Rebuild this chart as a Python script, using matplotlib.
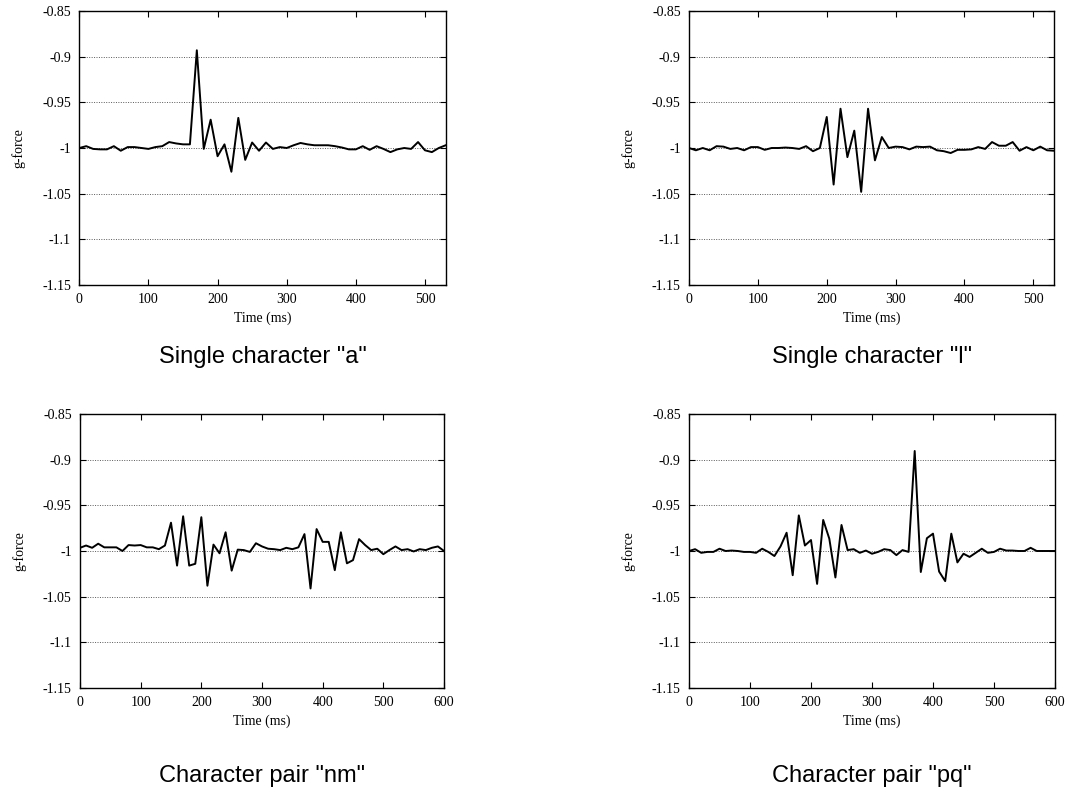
import numpy as np
import matplotlib.pyplot as plt
from matplotlib.ticker import FuncFormatter

plt.rcParams['axes.unicode_minus'] = False

# g-force samples, one every 10 ms
t_a = np.arange(0, 540, 10)
g_a = [-1.0, -0.998, -1.001, -1.0015, -1.0015, -0.998, -1.003, -0.999, -0.999, -1.0,
       -1.001, -0.999, -0.998, -0.9935, -0.995, -0.996, -0.996, -0.893, -1.001, -0.969,
       -1.009, -0.996, -1.026, -0.967, -1.013, -0.994, -1.003, -0.994, -1.001, -0.999,
       -1.0, -0.997, -0.9945, -0.996, -0.997, -0.997, -0.997, -0.998, -0.9995, -1.0015,
       -1.0015, -0.998, -1.002, -0.998, -1.001, -1.0045, -1.0015, -1.0, -1.001, -0.9935,
       -1.0025, -1.0045, -1.0, -0.997]

t_l = np.arange(0, 540, 10)
g_l = [-1.0, -1.0025, -1.0, -1.0025, -0.998, -0.9985, -1.001, -1.0, -1.0025, -0.999,
       -0.999, -1.002, -1.0, -1.0, -0.9995, -1.0, -1.001, -0.998, -1.0035, -1.0,
       -0.966, -1.040, -0.957, -1.01, -0.981, -1.048, -0.957, -1.0135, -0.988, -1.0,
       -0.9985, -0.999, -1.0015, -0.9985, -0.999, -0.9985, -1.0025, -1.0035, -1.0055, -1.002,
       -1.002, -1.0015, -0.999, -1.001, -0.9935, -0.9975, -0.9975, -0.9935, -1.003, -0.999,
       -1.0025, -0.9985, -1.0025, -1.003]

t_nm = np.arange(0, 610, 10)
g_nm = [-0.9965, -0.994, -0.9965, -0.992, -0.996, -0.996, -0.996, -1.0, -0.9935, -0.994,
        -0.9935, -0.996, -0.996, -0.998, -0.994, -0.969, -1.016, -0.962, -1.016, -1.014,
        -0.963, -1.038, -0.993, -1.0025, -0.9795, -1.0215, -0.9985, -0.999, -1.001, -0.9915,
        -0.995, -0.9975, -0.998, -0.999, -0.9965, -0.998, -0.996, -0.9815, -1.041, -0.976,
        -0.99, -0.99, -1.021, -0.9795, -1.0135, -1.01, -0.987, -0.9935, -0.999, -0.9975,
        -1.0035, -0.999, -0.995, -0.999, -0.998, -1.0005, -0.998, -0.999, -0.9965, -0.995,
        -1.0]

t_pq = np.arange(0, 610, 10)
g_pq = [-1.0, -0.998, -1.002, -1.001, -1.001, -0.9975, -1.0, -0.9995, -1.0, -1.001,
        -1.001, -1.002, -0.9975, -1.001, -1.0055, -0.995, -0.98, -1.0265, -0.961, -0.994,
        -0.988, -1.036, -0.966, -0.9865, -1.029, -0.9715, -0.999, -0.998, -1.002, -0.9995,
        -1.003, -1.001, -0.998, -0.999, -1.0045, -0.999, -1.001, -0.8905, -1.023, -0.986,
        -0.981, -1.0225, -1.033, -0.981, -1.0125, -1.003, -1.0065, -1.002, -0.9975, -1.002,
        -1.001, -0.9975, -0.9995, -0.9995, -1.0, -1.0, -0.9965, -1.0, -1.0, -1.0,
        -1.0]

titles = ['Single character "a"', 'Single character "l"',
          'Character pair "nm"', 'Character pair "pq"']
yticks = [-0.85, -0.9, -0.95, -1.0, -1.05, -1.1, -1.15]

W, H = 1069, 789
fig = plt.figure(figsize=(W / 100, H / 100), dpi=100)

# left, right, top, bottom in pixels
boxes = [(79.3, 445.7, 11, 285), (689, 1054, 11, 285),
         (80, 444, 414, 688), (689, 1055, 414, 688)]
series = [(t_a, g_a, 530), (t_l, g_l, 530), (t_nm, g_nm, 600), (t_pq, g_pq, 600)]
title_y = [357, 357, 776, 776]

serif = 'Liberation Serif'
for (l, r, top, bot), (t, g, xmax), title, ty in zip(boxes, series, titles, title_y):
    ax = fig.add_axes([l / W, 1 - bot / H, (r - l) / W, (bot - top) / H])
    ax.plot(t, g, color='black', lw=1.4)
    ax.set_xlim(0, xmax)
    ax.set_ylim(-1.15, -0.85)
    ax.set_xticks(np.arange(0, xmax + 1, 100))
    ax.set_yticks(yticks)
    ax.yaxis.set_major_formatter(FuncFormatter(lambda v, p: '%g' % v))
    ax.grid(axis='y', color='0.35', linestyle=(0, (1, 1.5)), lw=0.7)
    ax.tick_params(direction='in', top=True, right=True, length=4, width=0.8,
                   labelsize=10, pad=6)
    for lab in ax.get_xticklabels() + ax.get_yticklabels():
        lab.set_family(serif)
    for s in ax.spines.values():
        s.set_linewidth(1.0)
    ax.set_xlabel('Time (ms)', family=serif, fontsize=10, labelpad=4)
    ax.set_ylabel('g-force', family=serif, fontsize=10, labelpad=12)
    fig.text((l + r) / 2 / W, 1 - ty / H, title, family='Liberation Sans',
             fontsize=17, ha='center', va='center')

fig.savefig('out.png', dpi=100)
